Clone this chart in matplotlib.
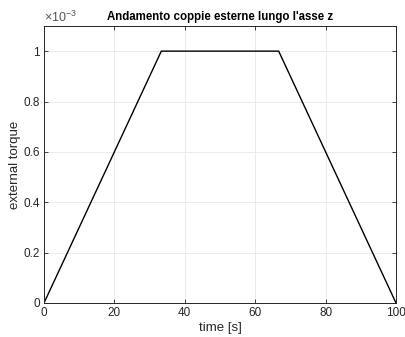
import matplotlib
matplotlib.use("Agg")
import matplotlib.pyplot as plt

# dati
time_s = [0, 33.33, 66.67, 100]
torque = [0, 1e-3, 1e-3, 0]
xticks = [0, 20, 40, 60, 80, 100]
yticks = [0, 0.2, 0.4, 0.6, 0.8, 1.0]

plt.rcParams["font.family"] = ["Liberation Sans", "DejaVu Sans"]
plt.rcParams["mathtext.fontset"] = "custom"
plt.rcParams["mathtext.rm"] = "Liberation Sans"

fig = plt.figure(figsize=(4.05, 3.37), dpi=100)
ax = fig.add_axes([0.1086, 0.1009, 0.8692, 0.8221])
ax.plot(time_s, [v * 1e3 for v in torque], color="black", lw=1.0)

ax.set_xlim(0, 100)
ax.set_ylim(0, 1.1)
ax.set_xticks(xticks)
ax.set_yticks(yticks)
ax.set_yticklabels(["0", "0.2", "0.4", "0.6", "0.8", "1"])
ax.grid(True, color="#ebebeb", lw=0.7)
ax.set_axisbelow(True)
for s in ax.spines.values():
    s.set_color("#262626")
    s.set_linewidth(0.7)
ax.tick_params(direction="in", length=3, width=0.6, colors="#262626", labelsize=8.5, pad=3)
ax.tick_params(top=True, right=True)

ax.set_xlabel("time [s]", fontsize=9.5, color="#262626", labelpad=2)
ax.set_ylabel("external torque", fontsize=9.5, color="#262626", labelpad=2)
ax.set_title("Andamento coppie esterne lungo l'asse z", fontsize=8.3, fontweight="bold", pad=4)
ax.text(0, 1.005, "×10$^{\\mathrm{-3}}$", transform=ax.transAxes, fontsize=9, color="#555555",
        ha="left", va="bottom")

fig.savefig("out.png", dpi=100)
